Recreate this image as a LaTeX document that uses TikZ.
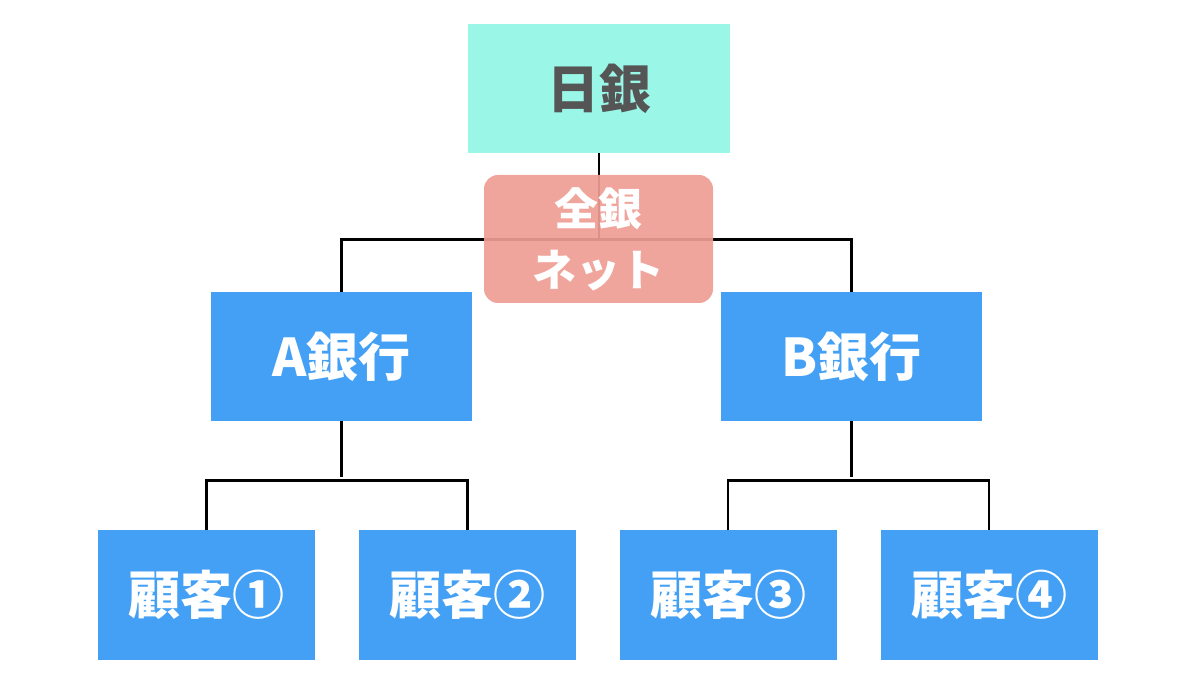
\documentclass[tikz,border=0pt]{standalone}
\usepackage{fontspec}
\setmainfont{Noto Sans CJK JP}
\usetikzlibrary{positioning,calc}
\definecolor{mint}{HTML}{9AF7E8}
\definecolor{bkblue}{HTML}{43A0F5}
\definecolor{zgpink}{HTML}{EF9D94}
\definecolor{txgray}{HTML}{555555}

\begin{document}
\begin{tikzpicture}[
  x=1pt, y=1pt,
  font=\bfseries\fontsize{52}{58}\selectfont,
  box/.style={inner sep=0pt, minimum height=129pt, align=center},
  bank/.style={box, fill=bkblue, text=white, minimum width=261pt},
  cust/.style={box, fill=bkblue, text=white, minimum width=217pt},
  ln/.style={line width=2.8pt, black}
]
\useasboundingbox (0,0) rectangle (1200,686);
\node[box, fill=mint, text=txgray, minimum width=262pt] (boj) at (599,597.5) {日銀};
\node[bank] (ba) at (341.5,329.5) {A銀行};
\node[bank] (bb) at (851.5,329.5) {B銀行};
\node[cust] (c1) at (206.5,91) {顧客①};
\node[cust] (c2) at (467.5,91) {顧客②};
\node[cust] (c3) at (728,91) {顧客③};
\node[cust] (c4) at (989,91) {顧客④};
% tree lines
\draw[ln] (boj.south) -- ++(0,-87);
\draw[ln] (ba.north) -- ++(0,52) -| (bb.north);
\draw[ln] (ba.south) -- ++(0,-56);
\draw[ln] (c1.north) -- ++(0,50) -| (c2.north);
\draw[ln] (bb.south) -- ++(0,-56);
\draw[ln] (c3.north) -- ++(0,50) -| (c4.north);
% zengin net on top
\node[box, fill=zgpink, fill opacity=0.92, text opacity=1, text=white,
      minimum width=229pt, minimum height=128pt, rounded corners=14pt,
      font=\bfseries\fontsize{44}{61}\selectfont] (zg) at (598.5,447) {全銀\\ネット};
\end{tikzpicture}
\end{document}
